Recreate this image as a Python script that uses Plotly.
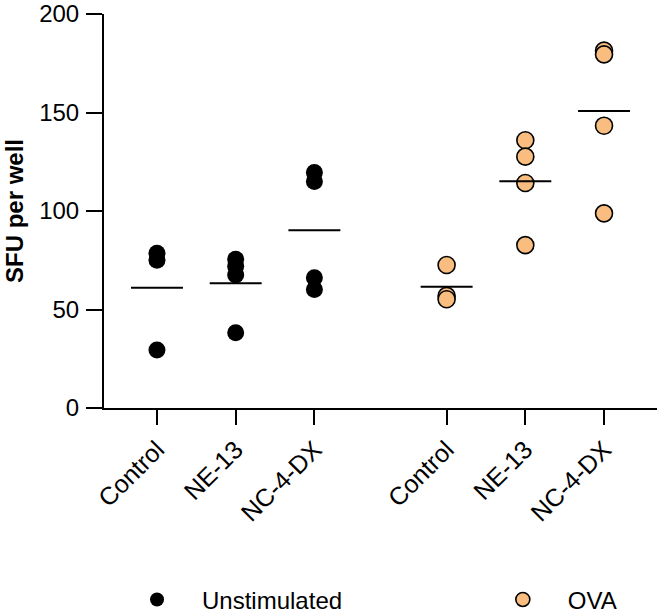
import plotly.graph_objects as go

# x slots for the six groups (gap between the two stimulation blocks)
positions = [0, 1, 2, 3.68, 4.68, 5.68]
tick_labels = ["Control", "NE-13", "NC-4-DX", "Control", "NE-13", "NC-4-DX"]

# SFU per well
unstim_control = [78.5, 75.0, 29.5]
unstim_ne13 = [75.5, 72.0, 67.5, 38.2]
unstim_nc4dx = [119.6, 115.0, 66.1, 60.2]
ova_control = [72.6, 56.9, 55.2]
ova_ne13 = [135.9, 127.6, 114.2, 82.7]
ova_nc4dx = [181.4, 179.5, 143.3, 98.8]

groups = [unstim_control, unstim_ne13, unstim_nc4dx, ova_control, ova_ne13, ova_nc4dx]
orange = "#F8BD7F"
font = "Arial, Liberation Sans, sans-serif"

fig = go.Figure()

for i, vals in enumerate(groups):
    ova = i >= 3
    fig.add_trace(go.Scatter(
        x=[positions[i]] * len(vals), y=vals, mode="markers",
        marker=dict(size=17, color=orange if ova else "black",
                    line=dict(color="black", width=1.6 if ova else 0)),
        showlegend=False, cliponaxis=False,
    ))
    m = sum(vals) / len(vals)
    fig.add_trace(go.Scatter(
        x=[positions[i] - 0.33, positions[i] + 0.33], y=[m, m], mode="lines",
        line=dict(color="black", width=2), showlegend=False,
    ))

# legend entries, one legend box each so they can sit far apart
fig.add_trace(go.Scatter(x=[None], y=[None], mode="markers", name="Unstimulated",
                         marker=dict(size=14, color="black"), legend="legend"))
fig.add_trace(go.Scatter(x=[None], y=[None], mode="markers", name="OVA",
                         marker=dict(size=14, color=orange, line=dict(color="black", width=1.6)),
                         legend="legend2"))

leg = dict(orientation="h", y=-0.487, xanchor="left", yanchor="middle",
           font=dict(size=24), itemwidth=80, bgcolor="rgba(0,0,0,0)")
fig.update_layout(
    width=662, height=613,
    margin=dict(l=104, r=5, t=14, b=205, autoexpand=False),
    plot_bgcolor="white", paper_bgcolor="white",
    font=dict(family=font, color="black"),
    legend=dict(leg, x=0.0145),
    legend2=dict(leg, x=0.676),
    annotations=[dict(text="<b>SFU per well</b>", xref="paper", yref="paper",
                      x=-0.1627, y=0.5, xanchor="center", yanchor="middle",
                      textangle=-90, showarrow=False, font=dict(size=24))],
)
fig.update_xaxes(
    range=[-0.673, 6.353], tickvals=positions, ticktext=tick_labels, tickangle=-45,
    showline=True, linecolor="black", linewidth=2, showgrid=False, zeroline=False,
    ticks="outside", ticklen=15, tickwidth=2, tickcolor="black", tickfont=dict(size=25),
    automargin=False,
)
fig.update_yaxes(
    range=[0, 200], tickvals=[0, 50, 100, 150, 200],
    showline=True, linecolor="black", linewidth=2, showgrid=False, zeroline=False,
    ticks="outside", ticklen=16, tickwidth=2, tickcolor="black", tickfont=dict(size=24),
    ticklabelstandoff=2, ticklabeloverflow="allow", automargin=False,
)

# drop the default 8px body margin so the figure fills the window
fig.write_html("out.html", config={"displayModeBar": False},
               post_script="document.body.style.margin='0px';")
